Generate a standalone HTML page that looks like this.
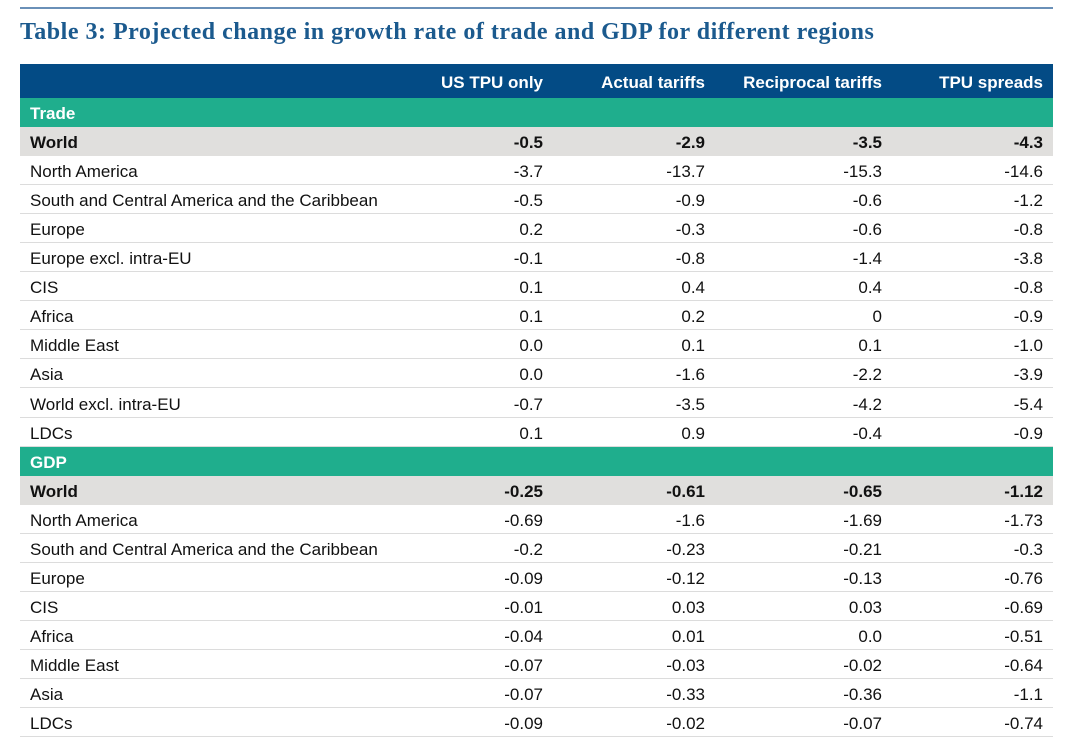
<!DOCTYPE html>
<html><head><meta charset="utf-8"><style>
body{margin:0;width:1080px;height:754px;background:#fff;position:relative;overflow:hidden;font-family:"Liberation Sans",sans-serif;}
.rule{position:absolute;left:20px;top:7px;width:1033px;height:2px;background:#6a90b8;}
.title{position:absolute;left:20px;top:19px;font-family:"Liberation Serif",serif;font-weight:bold;font-size:24px;letter-spacing:0.5px;color:#1b5a8e;white-space:nowrap;}
.hdr{position:absolute;left:20px;top:64px;width:1033px;height:34px;background:#034b85;}
.c{position:absolute;white-space:nowrap;font-size:17px;color:#111;}
.h{color:#fff;font-weight:bold;}
.row{position:absolute;left:20px;width:1033px;border-bottom:1px solid #dcdcdc;box-sizing:border-box;}
</style></head><body>
<div class="rule"></div>
<div class="title">Table 3: Projected change in growth rate of trade and GDP for different regions</div>
<div class="hdr"></div>
<div id="t"></div>
<script>
const cols=["US TPU only","Actual tariffs","Reciprocal tariffs","TPU spreads"];
const rights=[543,705,882,1043];
const rows=[
["sec","Trade"],
["w","World","-0.5","-2.9","-3.5","-4.3"],
["r","North America","-3.7","-13.7","-15.3","-14.6"],
["r","South and Central America and the Caribbean","-0.5","-0.9","-0.6","-1.2"],
["r","Europe","0.2","-0.3","-0.6","-0.8"],
["r","Europe excl. intra-EU","-0.1","-0.8","-1.4","-3.8"],
["r","CIS","0.1","0.4","0.4","-0.8"],
["r","Africa","0.1","0.2","0","-0.9"],
["r","Middle East","0.0","0.1","0.1","-1.0"],
["r","Asia","0.0","-1.6","-2.2","-3.9"],
["r","World excl. intra-EU","-0.7","-3.5","-4.2","-5.4"],
["r","LDCs","0.1","0.9","-0.4","-0.9"],
["sec","GDP"],
["w","World","-0.25","-0.61","-0.65","-1.12"],
["r","North America","-0.69","-1.6","-1.69","-1.73"],
["r","South and Central America and the Caribbean","-0.2","-0.23","-0.21","-0.3"],
["r","Europe","-0.09","-0.12","-0.13","-0.76"],
["r","CIS","-0.01","0.03","0.03","-0.69"],
["r","Africa","-0.04","0.01","0.0","-0.51"],
["r","Middle East","-0.07","-0.03","-0.02","-0.64"],
["r","Asia","-0.07","-0.33","-0.36","-1.1"],
["r","LDCs","-0.09","-0.02","-0.07","-0.74"]
];
const B=document.body;
cols.forEach((c,i)=>{const d=document.createElement('div');d.className='c h';


d.textContent=c;d.style.right=(1080-rights[i])+'px';d.style.top='73px';B.appendChild(d);});
const RH=29.05;
rows.forEach((r,i)=>{const top=98+i*RH;
const row=document.createElement('div');row.className='row';


row.style.top=top+'px';row.style.height=RH+'px';
if(r[0]==='sec'){row.style.background='#1fae8d';row.style.borderBottom='none';}
if(r[0]==='w'){row.style.background='#e0dfdd';row.style.borderBottom='none';}
B.appendChild(row);
const l=document.createElement('div');l.className='c';


l.textContent=r[1];l.style.left='30px';l.style.top=(top+6)+'px';
if(r[0]==='sec'){l.style.color='#fff';l.style.fontWeight='bold';}
if(r[0]==='w'){l.style.fontWeight='bold';}
B.appendChild(l);
for(let k=2;k<r.length;k++){const v=document.createElement('div');v.className='c';


v.textContent=r[k];v.style.right=(1080-rights[k-2])+'px';v.style.top=(top+6)+'px';
if(r[0]==='w')v.style.fontWeight='bold';B.appendChild(v);}
});
</script>
</body></html>
